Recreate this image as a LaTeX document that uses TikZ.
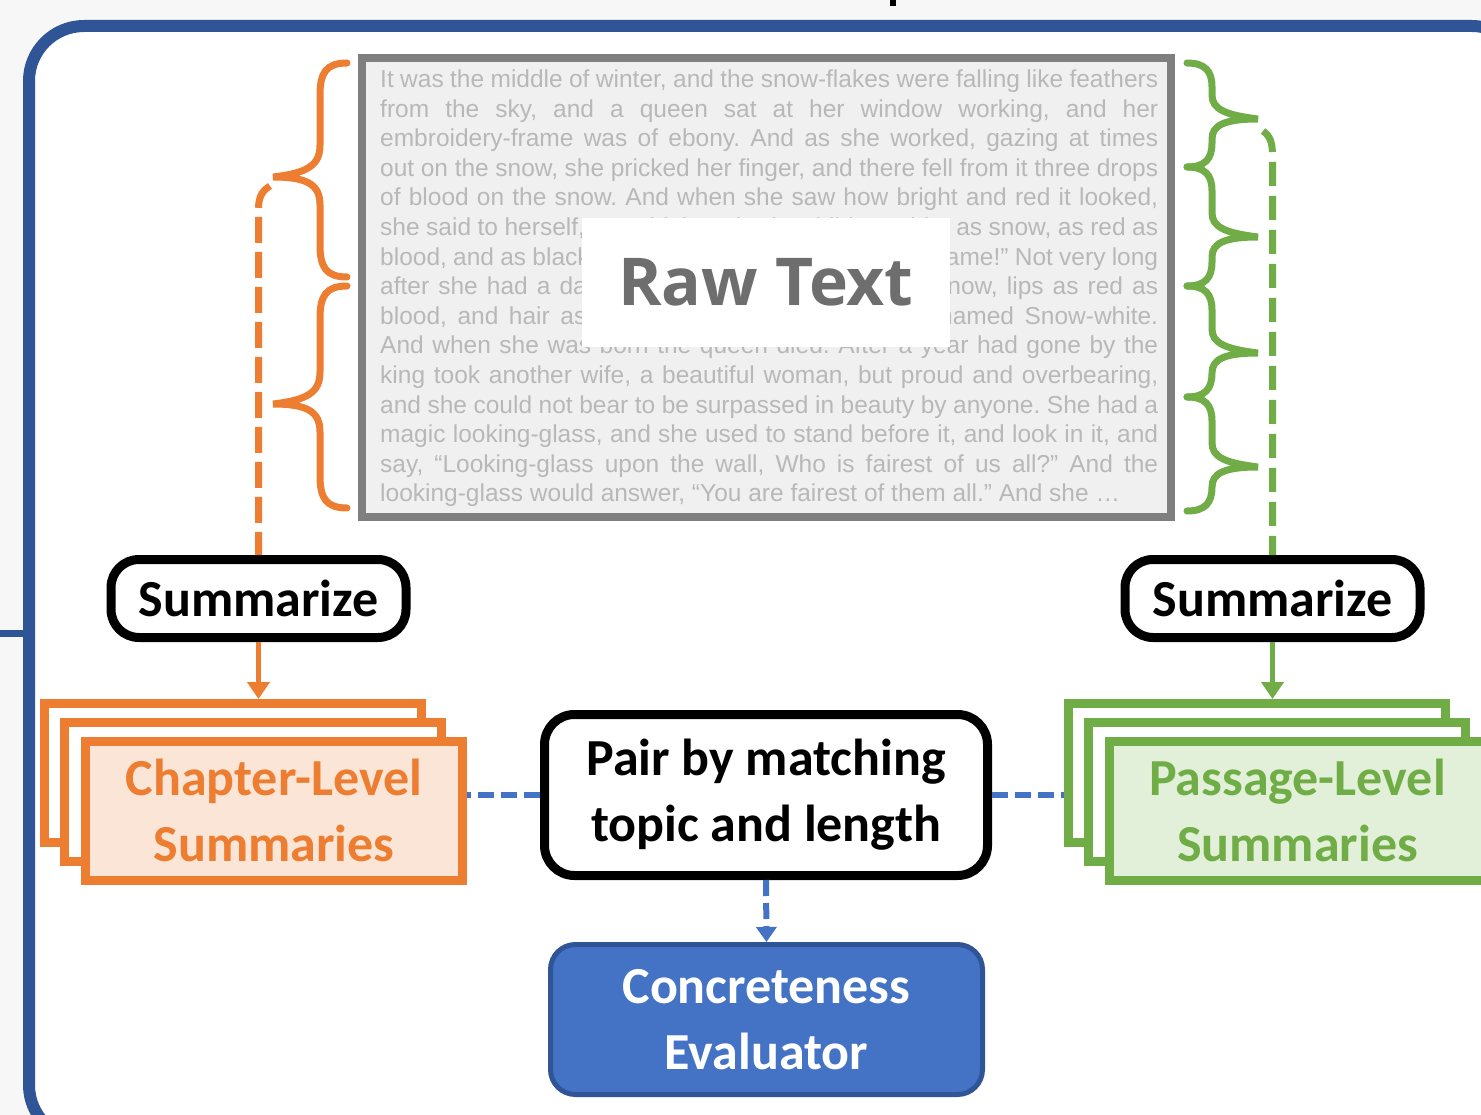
\documentclass[tikz,border=0pt]{standalone}
\usepackage{fontspec}
\setmainfont{Carlito}
\newfontfamily\paraFont{Liberation Sans}
\newfontfamily\rawFont{Open Sans}
\usetikzlibrary{arrows.meta,calc}
\definecolor{oOrange}{HTML}{ED7D31}
\definecolor{oFill}{HTML}{FBE5D6}
\definecolor{gGreen}{HTML}{70AD47}
\definecolor{gFill}{HTML}{E2F0D9}
\definecolor{bBlue}{HTML}{4472C4}
\definecolor{frameBlue}{HTML}{2F5597}
\definecolor{bgGray}{HTML}{F7F7F7}
\definecolor{boxGray}{HTML}{7F7F7F}
\definecolor{boxFill}{HTML}{F0F0F0}
\definecolor{paraGray}{HTML}{B8B8B8}
\definecolor{rawGray}{HTML}{6E6E6E}
\newcommand\myOBrace[3]{\draw[obr] (347,#1) .. controls (326,#1) and (320,#1+10) .. (320,#1+32) -- (320,#2-30) .. controls (320,#2-10) and (308,#2-2) .. (273,#2+2) .. controls (308,#2+2) and (320,#2+10) .. (320,#2+30) -- (320,#3-32) .. controls (320,#3-10) and (326,#3) .. (347,#3);}
\newcommand\myGBrace[3]{\draw[gbr] (1187,#1) .. controls (1205,#1) and (1212,#1+8) .. (1212,#1+24) -- (1212,#2-22) .. controls (1212,#2-8) and (1225,#2-2) .. (1258,#2+2) .. controls (1225,#2+2) and (1212,#2+8) .. (1212,#2+22) -- (1212,#3-24) .. controls (1212,#3-8) and (1205,#3) .. (1187,#3);}
\newcommand\jl[1]{\makebox[778pt][s]{#1}}
\begin{document}
\begin{tikzpicture}[x=1pt,y=-1pt,
  labelfont/.style={font=\bfseries\fontsize{52}{66}\selectfont},
  sumbox/.style={draw=black,line width=9pt,rounded corners=28pt,fill=white,minimum width=295pt,minimum height=78pt,inner sep=0pt,labelfont},
  obr/.style={oOrange,line width=7pt,line cap=round},
  gbr/.style={gGreen,line width=7pt,line cap=round},
  odash/.style={oOrange,line width=7pt,dash pattern=on 26pt off 9pt},
  gdash/.style={gGreen,line width=7pt,dash pattern=on 24pt off 10pt},
  bdash/.style={bBlue,line width=6pt,dash pattern=on 16pt off 7pt},
  ostack/.style={draw=oOrange,line width=9pt,fill=white,minimum width=377pt,minimum height=139pt,inner sep=0pt},
  gstack/.style={draw=gGreen,line width=9pt,fill=white,minimum width=377pt,minimum height=139pt,inner sep=0pt},
]
\useasboundingbox (0,0) rectangle (1481,1115);
\clip (0,0) rectangle (1481,1115);
\fill[bgGray] (0,0) rectangle (1481,1115);
\draw[frameBlue,line width=12pt,fill=white,rounded corners=55pt] (29,26) rectangle (1527,1140);
\draw[frameBlue,line width=7pt] (0,633) -- (24,633);
\fill[black] (890,0) rectangle (896,6);

% raw text box
\node[draw=boxGray,fill=boxFill,line width=8pt,minimum width=809pt,minimum height=459pt,inner sep=0pt] (raw) at (766.5,287.5) {};
\node[anchor=base west,inner sep=0pt,text=paraGray] (para) at (380,87.5) {\parbox[t]{778pt}{\paraFont\fontsize{24.5}{29.6}\selectfont\frenchspacing
\jl{It was the middle of winter, and the snow-flakes were falling like feathers}\\
\jl{from the sky, and a queen sat at her window working, and her}\\
\jl{embroidery-frame was of ebony. And as she worked, gazing at times}\\
\jl{out on the snow, she pricked her finger, and there fell from it three drops}\\
\jl{of blood on the snow. And when she saw how bright and red it looked,}\\
\jl{she said to herself, “Would that I had a child as white as snow, as red as}\\
\jl{blood, and as black as the wood of the embroidery-frame!” Not very long}\\
\jl{after she had a daughter, with a skin as white as snow, lips as red as}\\
\jl{blood, and hair as black as ebony, and she was named Snow-white.}\\
\jl{And when she was born the queen died. After a year had gone by the}\\
\jl{king took another wife, a beautiful woman, but proud and overbearing,}\\
\jl{and she could not bear to be surpassed in beauty by anyone. She had a}\\
\jl{magic looking-glass, and she used to stand before it, and look in it, and}\\
\jl{say, “Looking-glass upon the wall, Who is fairest of us all?” And the}\\
looking-glass would answer, “You are fairest of them all.” And she \ldots}};
\node[fill=white,minimum width=368pt,minimum height=129pt,inner sep=0pt,text=rawGray,font=\rawFont\bfseries\fontsize{66}{66}\selectfont] (rawlabel) at (766,282.5) {Raw Text};

% braces
\myOBrace{63}{175}{277}
\myOBrace{286}{402}{508}
\myGBrace{63}{117}{167}
\myGBrace{167}{235}{286}
\myGBrace{286}{351}{397}
\myGBrace{397}{465}{511}

% summarize boxes
\node[sumbox] (summL) at (258.5,598.5) {Summarize};
\node[sumbox] (summR) at (1272.5,598.5) {Summarize};

\coordinate (otip) at (270,186);
\coordinate (gtip) at (1263,131);
\draw[odash] (otip) .. controls (260,192) and (258,200) .. (258.5,214) -- (summL.north);
\draw[gdash] (gtip) .. controls (1270,136) and (1272.5,142) .. (1272.5,156) -- (summR.north);

% stacks
\node[ostack] (chap1) at (232.5,773) {};
\node[ostack] (chap2) at (253,791.5) {};
\node[ostack,fill=oFill,text=oOrange,labelfont,align=center] (chap3) at (274,810.5) {Chapter-Level\\Summaries};
\node[gstack] (pass1) at (1256.5,773) {};
\node[gstack] (pass2) at (1276.5,791.5) {};
\node[gstack,fill=gFill,text=gGreen,labelfont,align=center] (pass3) at (1297.5,810.5) {Passage-Level\\Summaries};

% pair and evaluator
\node[draw=black,line width=9pt,rounded corners=30pt,fill=white,minimum width=443pt,minimum height=161pt,inner sep=0pt,labelfont,align=center] (pair) at (766,795) {Pair by matching\\topic and length};
\node[draw=frameBlue,fill=bBlue,line width=5pt,rounded corners=25pt,minimum width=432pt,minimum height=150pt,inner sep=0pt,labelfont,text=white,align=center] (conc) at (766.5,1019.5) {Concreteness\\Evaluator};

% arrows
\draw[oOrange,line width=5pt,-{Triangle[width=22pt,length=17pt]}] (summL.south) -- (summL.south |- chap1.north);
\draw[gGreen,line width=5pt,-{Triangle[width=22pt,length=17pt]}] (summR.south) -- (summR.south |- pass1.north);
\draw[bdash,-{Triangle[width=20pt,length=15pt]}] (pair.south) -- (conc.north);
\draw[bdash] (pair.west) -- (pair.west -| chap3.east);
\draw[bdash] (pair.east) -- (pair.east -| pass1.west);
\end{tikzpicture}
\end{document}
